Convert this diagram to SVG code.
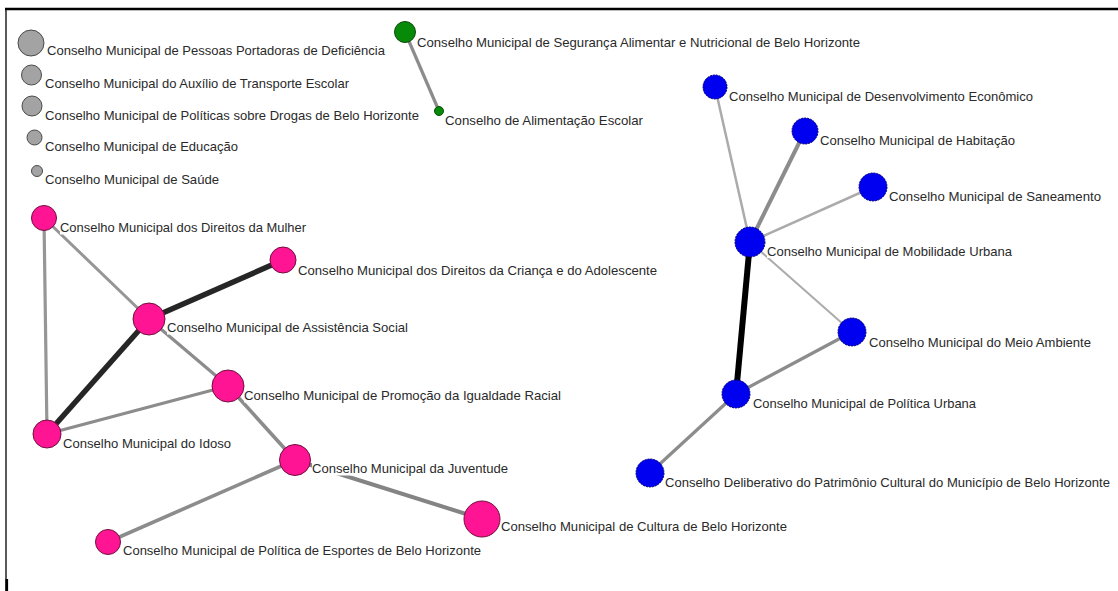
<svg xmlns="http://www.w3.org/2000/svg" width="1118" height="591" viewBox="0 0 1118 591">
<style>
text{font-family:"Liberation Sans",Arial,sans-serif;font-size:13px;fill:#2a2a2a}
.bg{fill:#fff}
.gray{fill:#a3a3a3;stroke:#4a4a4a;stroke-width:1}
.green{fill:#078a07;stroke:#0b4a0b;stroke-width:1}
.pink{fill:#ff1493;stroke:#70103f;stroke-width:1}
.blue{fill:#0000f0;stroke:#00007a;stroke-width:1;stroke-dasharray:2 1}
.e{fill:none;stroke-linecap:butt}
.lt{stroke:#ababab;stroke-width:2.5}
.md{stroke:#8c8c8c;stroke-width:3.2}
.hv{stroke:#262626;stroke-width:5.5}
.bk{stroke:#000;stroke-width:6}
</style>
<rect width="1118" height="591" fill="#fff"/>
<g id="frame">
<line x1="5" y1="9" x2="1118" y2="9" stroke="#000" stroke-width="2.4"/>
<line x1="6" y1="8" x2="6" y2="591" stroke="#000" stroke-width="1.3"/>
<rect x="5.5" y="579" width="2.6" height="12" fill="#000"/>
</g>
<g id="connectors">
<line class="e md" x1="405" y1="32" x2="439" y2="111"/>
<line class="e md" x1="44" y1="218" x2="47" y2="434" style="stroke:#969696"/>
<line class="e md" x1="44" y1="218" x2="149" y2="319" style="stroke:#969696;stroke-width:3"/>
<line class="e hv" x1="149" y1="319" x2="283" y2="260"/>
<line class="e hv" x1="149" y1="319" x2="47" y2="434"/>
<line class="e md" x1="149" y1="319" x2="228" y2="386"/>
<line class="e md" x1="228" y1="386" x2="47" y2="434"/>
<line class="e md" x1="228" y1="386" x2="295" y2="460" style="stroke-width:3.6"/>
<line class="e md" x1="295" y1="460" x2="482" y2="519" style="stroke:#848484;stroke-width:4"/>
<line class="e md" x1="295" y1="460" x2="108" y2="542" style="stroke-width:3.6"/>
<line class="e lt" x1="715" y1="87" x2="750" y2="242"/>
<line class="e md" x1="805" y1="131" x2="750" y2="242" style="stroke-width:4"/>
<line class="e lt" x1="873" y1="187" x2="750" y2="242"/>
<line class="e lt" x1="750" y1="242" x2="852" y2="332" style="stroke-width:2"/>
<line class="e bk" x1="750" y1="242" x2="736" y2="394"/>
<line class="e md" x1="852" y1="332" x2="736" y2="394"/>
<line class="e md" x1="736" y1="394" x2="650" y2="473"/>
</g>
<g id="n-pessoas"><text x="47" y="55" textLength="338" lengthAdjust="spacingAndGlyphs">Conselho Municipal de Pessoas Portadoras de Deficiência</text><circle class="gray" cx="31" cy="43" r="13"/></g>
<g id="n-auxilio"><text x="45" y="88" textLength="304" lengthAdjust="spacingAndGlyphs">Conselho Municipal do Auxílio de Transporte Escolar</text><circle class="gray" cx="31.5" cy="75" r="10"/></g>
<g id="n-drogas"><text x="45" y="120" textLength="374" lengthAdjust="spacingAndGlyphs">Conselho Municipal de Políticas sobre Drogas de Belo Horizonte</text><circle class="gray" cx="32" cy="106" r="10"/></g>
<g id="n-educacao"><text x="45" y="151" textLength="193" lengthAdjust="spacingAndGlyphs">Conselho Municipal de Educação</text><circle class="gray" cx="34.5" cy="137.5" r="7.5"/></g>
<g id="n-saude"><text x="45" y="184" textLength="174" lengthAdjust="spacingAndGlyphs">Conselho Municipal de Saúde</text><circle class="gray" cx="37" cy="171" r="5.5"/></g>
<g id="n-seguranca"><text x="417" y="47" textLength="443" lengthAdjust="spacingAndGlyphs">Conselho Municipal de Segurança Alimentar e Nutricional de Belo Horizonte</text><circle class="green" cx="405" cy="32" r="10.5"/></g>
<g id="n-alimentacao"><text x="445" y="125" textLength="198" lengthAdjust="spacingAndGlyphs">Conselho de Alimentação Escolar</text><circle class="green" cx="439" cy="111" r="4.5"/></g>
<g id="n-mulher"><rect class="bg" x="60" y="222" width="246" height="12.5"/><text x="60" y="232" textLength="246" lengthAdjust="spacingAndGlyphs">Conselho Municipal dos Direitos da Mulher</text><circle class="pink" cx="44" cy="218" r="12.5"/></g>
<g id="n-crianca"><rect class="bg" x="298" y="265" width="359" height="12.5"/><text x="298" y="275" textLength="359" lengthAdjust="spacingAndGlyphs">Conselho Municipal dos Direitos da Criança e do Adolescente</text><circle class="pink" cx="283" cy="260" r="13"/></g>
<g id="n-assistencia"><rect class="bg" x="167" y="322" width="241" height="12.5"/><text x="167" y="332" textLength="241" lengthAdjust="spacingAndGlyphs">Conselho Municipal de Assistência Social</text><circle class="pink" cx="149" cy="319" r="16"/></g>
<g id="n-promocao"><rect class="bg" x="244" y="390" width="317" height="12.5"/><text x="244" y="400" textLength="317" lengthAdjust="spacingAndGlyphs">Conselho Municipal de Promoção da Igualdade Racial</text><circle class="pink" cx="228" cy="386" r="16"/></g>
<g id="n-idoso"><rect class="bg" x="63" y="438" width="168" height="12.5"/><text x="63" y="448" textLength="168" lengthAdjust="spacingAndGlyphs">Conselho Municipal do Idoso</text><circle class="pink" cx="47" cy="434" r="14"/></g>
<g id="n-juventude"><rect class="bg" x="312" y="463" width="196" height="12.5"/><text x="312" y="473" textLength="196" lengthAdjust="spacingAndGlyphs">Conselho Municipal da Juventude</text><circle class="pink" cx="295" cy="460" r="15.5"/></g>
<g id="n-cultura"><rect class="bg" x="501" y="521" width="286" height="12.5"/><text x="501" y="531" textLength="286" lengthAdjust="spacingAndGlyphs">Conselho Municipal de Cultura de Belo Horizonte</text><circle class="pink" cx="482" cy="519" r="18"/></g>
<g id="n-esportes"><rect class="bg" x="123" y="545" width="358" height="12.5"/><text x="123" y="555" textLength="358" lengthAdjust="spacingAndGlyphs">Conselho Municipal de Política de Esportes de Belo Horizonte</text><circle class="pink" cx="108" cy="542" r="12.5"/></g>
<g id="n-desenvolvimento"><rect class="bg" x="729" y="91" width="304" height="12.5"/><text x="729" y="101" textLength="304" lengthAdjust="spacingAndGlyphs">Conselho Municipal de Desenvolvimento Econômico</text><circle class="blue" cx="715" cy="87" r="12"/></g>
<g id="n-habitacao"><rect class="bg" x="820" y="135" width="195" height="12.5"/><text x="820" y="145" textLength="195" lengthAdjust="spacingAndGlyphs">Conselho Municipal de Habitação</text><circle class="blue" cx="805" cy="131" r="13"/></g>
<g id="n-saneamento"><rect class="bg" x="889" y="191" width="212" height="12.5"/><text x="889" y="201" textLength="212" lengthAdjust="spacingAndGlyphs">Conselho Municipal de Saneamento</text><circle class="blue" cx="873" cy="187" r="14"/></g>
<g id="n-mobilidade"><rect class="bg" x="767" y="246" width="245" height="12"/><text x="767" y="256" textLength="245" lengthAdjust="spacingAndGlyphs">Conselho Municipal de Mobilidade Urbana</text><circle class="blue" cx="750" cy="242" r="15"/></g>
<g id="n-meioambiente"><rect class="bg" x="869" y="337" width="222" height="12.5"/><text x="869" y="347" textLength="222" lengthAdjust="spacingAndGlyphs">Conselho Municipal do Meio Ambiente</text><circle class="blue" cx="852" cy="332" r="14"/></g>
<g id="n-politicaurbana"><rect class="bg" x="753" y="398" width="223" height="12.5"/><text x="753" y="408" textLength="223" lengthAdjust="spacingAndGlyphs">Conselho Municipal de Política Urbana</text><circle class="blue" cx="736" cy="394" r="14"/></g>
<g id="n-patrimonio"><rect class="bg" x="665" y="477" width="445" height="12.5"/><text x="665" y="487" textLength="445" lengthAdjust="spacingAndGlyphs">Conselho Deliberativo do Patrimônio Cultural do Município de Belo Horizonte</text><circle class="blue" cx="650" cy="473" r="14"/></g>
</svg>
